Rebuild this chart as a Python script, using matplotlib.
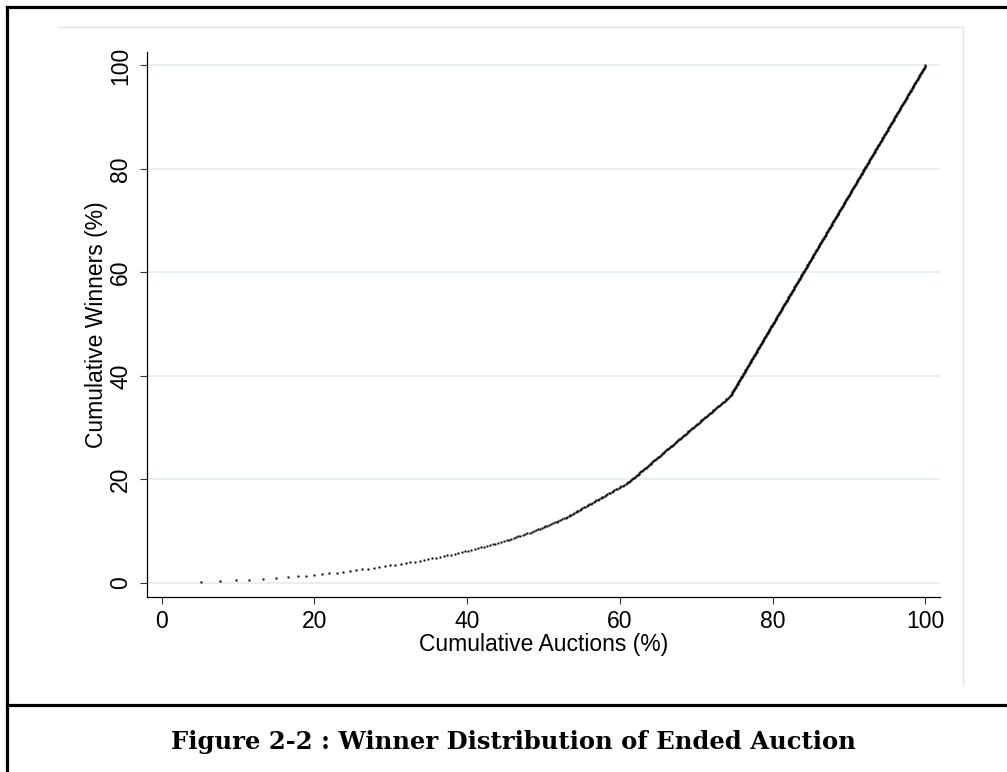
import numpy as np
import matplotlib
matplotlib.use("Agg")
import matplotlib.pyplot as plt
from matplotlib.lines import Line2D

plt.rcParams['font.family'] = ['Liberation Sans', 'DejaVu Sans']

# wins of the biggest winners, one entry per winner (the sparse dots at the left)
top_winner_wins = [84, 41, 35, 29, 29, 29, 26, 21, 18, 17, 17, 16, 16, 14, 14,
                   14, 13, 13, 12, 12, 12, 12, 11, 11, 11, 10, 10, 10, 9]
# the rest of the winners, grouped by number of auctions won
wins_levels = [9, 8, 7, 6, 5, 4, 3, 2, 1]
winners_at_level = [3, 6, 8, 8, 12, 17, 45, 110, 422]

x_ticks = [0, 20, 40, 60, 80, 100]
y_ticks = [0, 20, 40, 60, 80, 100]
x_title = "Cumulative Auctions (%)"
y_title = "Cumulative Winners (%)"
caption = "Figure 2-2 : Winner Distribution of Ended Auction"

# cumulative shares, winners sorted from most wins to fewest
wins = np.array(top_winner_wins + list(np.repeat(wins_levels, winners_at_level)))
cum_auctions = 100.0 * np.cumsum(wins) / wins.sum()
cum_winners = 100.0 * np.arange(1, len(wins) + 1) / len(wins)

W, H = 1007, 772
def fx(px):
    return px / W
def fy(py):
    return 1 - py / H

fig = plt.figure(figsize=(W / 100, H / 100), dpi=100)
fig.patch.set_facecolor('white')

# page frame around the figure and the caption
frame = dict(transform=fig.transFigure, color='black', lw=2.3, solid_capstyle='projecting')
fig.add_artist(Line2D([fx(7), fx(7)], [fy(7), 0], **frame))
fig.add_artist(Line2D([fx(7), 1], [fy(7), fy(7)], **frame))
fig.add_artist(Line2D([fx(7), 1], [fy(705), fy(705)], **frame))

# faint edge of the embedded graph image
faint = dict(transform=fig.transFigure, color='#e2e4e4', lw=1.0)
fig.add_artist(Line2D([fx(58), fx(963)], [fy(27), fy(27)], **faint))
fig.add_artist(Line2D([fx(963), fx(963)], [fy(27), fy(685)], **faint))

ax = fig.add_axes([fx(147.3), fy(597), fx(940) - fx(147.3), fy(52) - fy(597)])
ax.set_facecolor('white')

ax.plot(cum_auctions, cum_winners, ls='none', marker='s', ms=1.9,
        mfc='black', mec='none', zorder=3)

ax.set_xlim(-1.89, 101.9)
ax.set_ylim(-2.76, 102.6)
ax.set_xticks(x_ticks)
ax.set_yticks(y_ticks)
ax.grid(axis='y', color='#e4eced', lw=1.2, zorder=0)
ax.grid(axis='x', visible=False)

for side in ['top', 'right']:
    ax.spines[side].set_visible(False)
for side in ['left', 'bottom']:
    ax.spines[side].set_linewidth(0.9)
    ax.spines[side].set_color('black')

ax.tick_params(direction='out', length=5, width=0.8, color='#333333',
               labelsize=16.5, labelcolor='black')
ax.tick_params(axis='x', pad=4)
ax.tick_params(axis='y', pad=6)
for lab in ax.get_yticklabels():
    lab.set_rotation(90)
    lab.set_va('center')

ax.set_xlabel(x_title, fontsize=16.5)
ax.set_ylabel(y_title, fontsize=16.5)
ax.xaxis.label.set_va('center')
ax.yaxis.label.set_va('center')
ax.xaxis.set_label_coords((543.5 - 147.3) / (940 - 147.3), (597 - 645) / 545)
ax.yaxis.set_label_coords((96 - 147.3) / (940 - 147.3), 0.5)

fig.text(fx(513), fy(742), caption, ha='center', va='center',
         fontsize=17.5, fontweight='bold', family='DejaVu Serif')

fig.savefig('out.png', dpi=100)
